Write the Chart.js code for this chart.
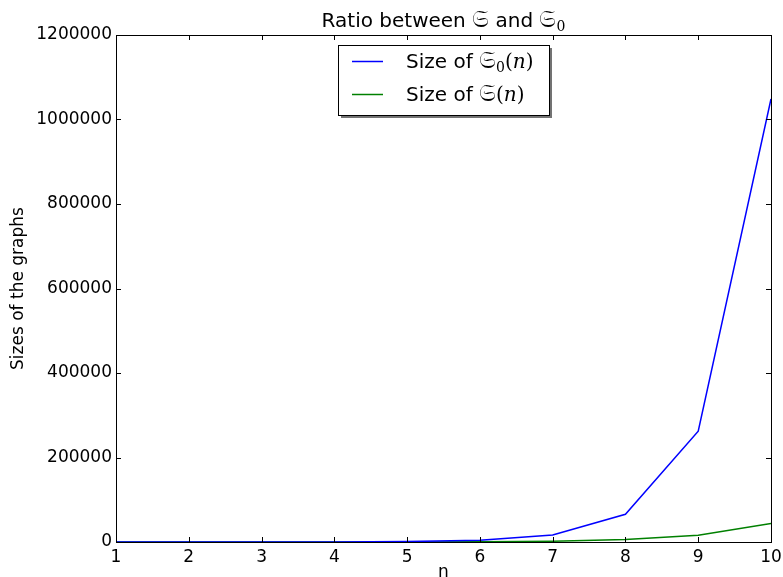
<!DOCTYPE html>
<html>
<head>
<meta charset="utf-8">
<script src="https://cdn.jsdelivr.net/npm/chart.js@4"></script>
<style>
html,body{margin:0;padding:0;background:#fff;}
#wrap{width:783px;height:577px;}
</style>
</head>
<body>
<div id="wrap"><canvas id="c" width="783" height="577"></canvas></div>
<script>
const nValues = [1, 2, 3, 4, 5, 6, 7, 8, 9, 10];
const sizeS0 = [4, 16, 64, 256, 1024, 4096, 16384, 65536, 262144, 1048576];
const sizeS = [2, 8, 25, 80, 240, 700, 2000, 5800, 16000, 44000];
const yTicks = [0, 200000, 400000, 600000, 800000, 1000000, 1200000];
const seriesLabels = ['Size of 𝔖₀(n)', 'Size of 𝔖(n)'];
const titleText = 'Ratio between 𝔖 and 𝔖₀';
const xLabel = 'n';
const yLabel = 'Sizes of the graphs';
const seriesColors = ['#0000ff', '#008000'];

const SANS = '"DejaVu Sans", sans-serif';
const SERIF = '"DejaVu Serif", serif';

function drawRich(ctx, x, y, parts) {
  let cx = x;
  for (const p of parts) {
    ctx.font = p.font;
    ctx.fillText(p.t, cx, y + (p.dy || 0));
    cx += ctx.measureText(p.t).width;
  }
  return cx;
}

const framePlugin = {
  id: 'frame',
  afterDraw(chart) {
    const ctx = chart.ctx;
    const a = chart.chartArea;
    const xs = chart.scales.x, ys = chart.scales.y;
    ctx.save();
    ctx.strokeStyle = '#000';
    ctx.lineWidth = 1;
    ctx.strokeRect(Math.round(a.left) + 0.5, Math.round(a.top) + 0.5,
      Math.round(a.right - a.left), Math.round(a.bottom - a.top));
    const tl = 5;
    ctx.beginPath();
    for (const v of nValues) {
      const px = Math.round(xs.getPixelForValue(v)) + 0.5;
      ctx.moveTo(px, a.bottom); ctx.lineTo(px, a.bottom - tl);
      ctx.moveTo(px, a.top); ctx.lineTo(px, a.top + tl);
    }
    for (const v of yTicks) {
      const py = Math.round(ys.getPixelForValue(v)) + 0.5;
      ctx.moveTo(a.left, py); ctx.lineTo(a.left + tl, py);
      ctx.moveTo(a.right, py); ctx.lineTo(a.right - tl, py);
    }
    ctx.stroke();

    // title
    ctx.fillStyle = '#000';
    ctx.textBaseline = 'alphabetic';
    ctx.textAlign = 'left';
    const tParts = [
      {t: 'Ratio between ', font: '20px ' + SANS},
      {t: '𝔖', font: '24px ' + SANS},
      {t: ' and ', font: '20px ' + SANS},
      {t: '𝔖', font: '24px ' + SANS},
      {t: '0', font: '14px ' + SERIF, dy: 4}
    ];
    let w = 0;
    for (const p of tParts) { ctx.font = p.font; w += ctx.measureText(p.t).width; }
    const cx = (a.left + a.right) / 2;
    drawRich(ctx, cx - w / 2, 27, tParts);

    // legend
    const lw = 211, lh = 70;
    const lx = Math.round(cx - lw / 2), ly = Math.round(a.top + 10);
    ctx.fillStyle = 'rgba(0,0,0,0.55)';
    ctx.fillRect(lx + 3, ly + 3, lw, lh);
    ctx.fillStyle = '#fff';
    ctx.fillRect(lx, ly, lw, lh);
    ctx.strokeStyle = '#000';
    ctx.lineWidth = 1;
    ctx.strokeRect(lx + 0.5, ly + 0.5, lw, lh);
    const rows = [ly + 16, ly + 49];
    chart.data.datasets.forEach((d, i) => {
      ctx.strokeStyle = seriesColors[i];
      ctx.lineWidth = 1.5;
      ctx.beginPath();
      ctx.moveTo(lx + 14, rows[i] + 0.5);
      ctx.lineTo(lx + 45, rows[i] + 0.5);
      ctx.stroke();
      ctx.fillStyle = '#000';
      const parts = [
        {t: 'Size of ', font: '20px ' + SANS},
        {t: '𝔖', font: '24px ' + SANS}
      ];
      if (i === 0) parts.push({t: '0', font: '14px ' + SERIF, dy: 4});
      parts.push({t: '(', font: '20px ' + SERIF});
      parts.push({t: 'n', font: 'italic 20px ' + SERIF});
      parts.push({t: ')', font: '20px ' + SERIF});
      drawRich(ctx, lx + 68, rows[i] + 7, parts);
    });
    ctx.restore();
  }
};

new Chart(document.getElementById('c'), {
  type: 'line',
  data: {
    datasets: [
      {
        label: seriesLabels[0],
        data: nValues.map((n, i) => ({x: n, y: sizeS0[i]})),
        borderColor: seriesColors[0],
        borderWidth: 1.5,
        pointRadius: 0,
        tension: 0,
        fill: false
      },
      {
        label: seriesLabels[1],
        data: nValues.map((n, i) => ({x: n, y: sizeS[i]})),
        borderColor: seriesColors[1],
        borderWidth: 1.5,
        pointRadius: 0,
        tension: 0,
        fill: false
      }
    ]
  },
  options: {
    responsive: false,
    animation: false,
    devicePixelRatio: 1,
    layout: {padding: {top: 35, right: 12, left: 0, bottom: 0}},
    plugins: {
      legend: {display: false},
      tooltip: {enabled: false},
      title: {display: false}
    },
    scales: {
      x: {
        type: 'linear',
        min: 1, max: 10,
        grid: {display: false, drawTicks: false},
        border: {display: true, color: '#000', width: 1},
        ticks: {stepSize: 1, color: '#000', font: {family: SANS, size: 17}, padding: 5, maxRotation: 0,
          callback: v => String(v)},
        title: {display: true, text: xLabel, color: '#000', font: {family: SANS, size: 17}, padding: {top: -6, bottom: -6}},
        afterFit: s => { s.height = 35; s.paddingLeft = 0; s.paddingRight = 0; }
      },
      y: {
        min: 0, max: 1200000,
        grid: {display: false, drawTicks: false},
        border: {display: true, color: '#000', width: 1},
        ticks: {stepSize: 200000, color: '#000', font: {family: SANS, size: 17}, padding: 4,
          callback: v => String(v)},
        title: {display: true, text: yLabel, color: '#000', font: {family: SANS, size: 17}, padding: {top: 8, bottom: 0}},
        afterFit: s => { s.width = 116; s.paddingTop = 0; s.paddingBottom = 0; }
      }
    }
  },
  plugins: [framePlugin]
});
</script>
</body>
</html>
